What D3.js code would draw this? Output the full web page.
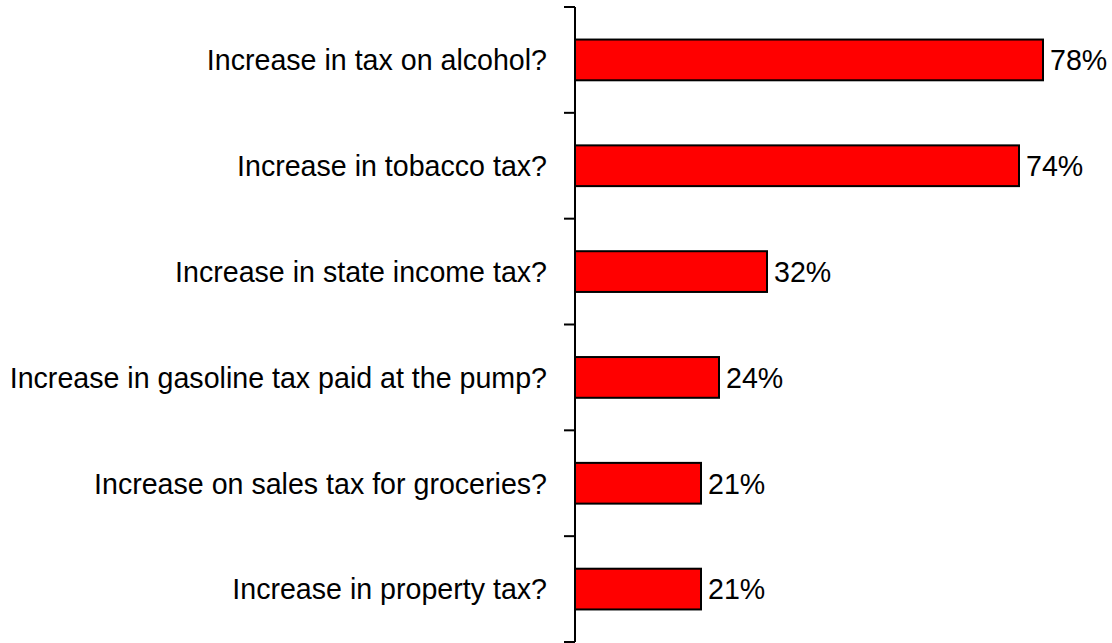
<!DOCTYPE html>
<html>
<head>
<meta charset="utf-8">
<script src="https://cdn.jsdelivr.net/npm/d3@7"></script>
<style>
  html, body { margin: 0; padding: 0; background: #fff; }
  svg { display: block; }
  text { font-family: "Liberation Sans", Arial, sans-serif; }
</style>
</head>
<body>
<svg id="chart" width="1112" height="643"></svg>
<script>
const categories = [
  "Increase in tax on alcohol?",
  "Increase in tobacco tax?",
  "Increase in state income tax?",
  "Increase in gasoline tax paid at the pump?",
  "Increase on sales tax for groceries?",
  "Increase in property tax?"
];
const values = [78, 74, 32, 24, 21, 21];
const valueLabels = ["78%", "74%", "32%", "24%", "21%", "21%"];

const svg = d3.select("#chart");
const axisX = 575;

const x = d3.scaleLinear().domain([0, 100]).range([axisX, axisX + 600]);
const y = d3.scaleBand().domain(categories).range([7, 642]).paddingInner(0.615).paddingOuter(0.3075);
const yEdges = d3.scaleLinear().domain([0, categories.length]).range([7, 642]);

// axis line
svg.append("line")
  .attr("x1", axisX).attr("x2", axisX)
  .attr("y1", yEdges(0)).attr("y2", yEdges(categories.length))
  .attr("stroke", "#000").attr("stroke-width", 2);

// tick marks at band boundaries
svg.selectAll("line.tick")
  .data(d3.range(categories.length + 1))
  .join("line")
  .attr("class", "tick")
  .attr("x1", axisX - 11).attr("x2", axisX)
  .attr("y1", d => yEdges(d)).attr("y2", d => yEdges(d))
  .attr("stroke", "#000").attr("stroke-width", 2);

// bars
svg.selectAll("rect.bar")
  .data(values)
  .join("rect")
  .attr("class", "bar")
  .attr("x", x(0))
  .attr("y", (d, i) => y(categories[i]))
  .attr("width", d => x(d) - x(0))
  .attr("height", y.bandwidth())
  .attr("fill", "#ff0000")
  .attr("stroke", "#000")
  .attr("stroke-width", 2);

// category labels
svg.selectAll("text.cat")
  .data(categories)
  .join("text")
  .attr("class", "cat")
  .attr("x", 547)
  .attr("y", d => y(d) + y.bandwidth() / 2)
  .attr("dy", "0.36em")
  .attr("text-anchor", "end")
  .attr("font-size", 28.6)
  .attr("fill", "#000")
  .text(d => d);

// value labels
svg.selectAll("text.val")
  .data(values)
  .join("text")
  .attr("class", "val")
  .attr("x", d => x(d) + 7)
  .attr("y", (d, i) => y(categories[i]) + y.bandwidth() / 2)
  .attr("dy", "0.36em")
  .attr("font-size", 28.6)
  .attr("fill", "#000")
  .text((d, i) => valueLabels[i]);
</script>
</body>
</html>
